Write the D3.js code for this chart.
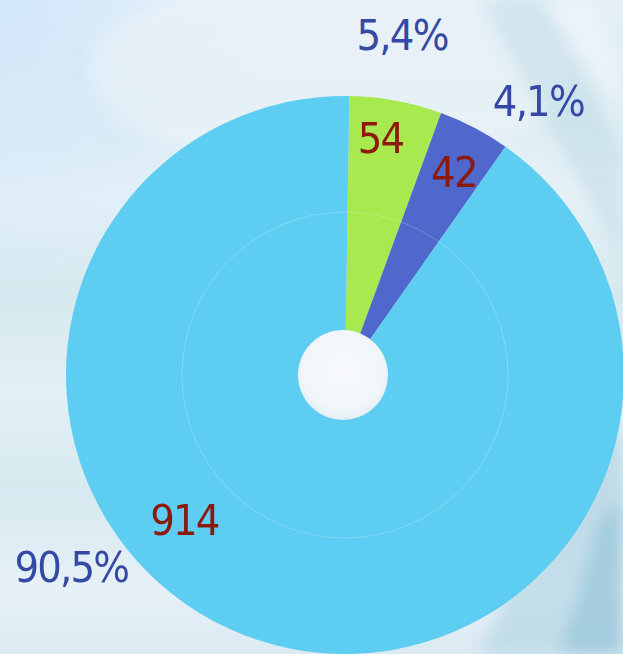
<!DOCTYPE html>
<html>
<head>
<meta charset="utf-8">
<script src="https://cdn.jsdelivr.net/npm/d3@7"></script>
<style>
  html, body { margin: 0; padding: 0; overflow: hidden; }
  svg { display: block; }
</style>
</head>
<body>
<div id="chart"></div>
<script>
// data
var categories = ["A", "B", "C"];
var counts = [54, 42, 914];
var percents = ["5,4%", "4,1%", "90,5%"];

var colors = ["#a8e94f", "#5068cc", "#5ecdf2"];
// label angle nudges (degrees) like the original smart placement
var valueShift = [-2, 0.5, 30];
var pctShift = [-1, 7.5, 37];

var width = 623, height = 654;
var cx = 345, cy = 375, radius = 279;

var svg = d3.select("#chart")
  .append("svg")
  .attr("width", width)
  .attr("height", height);

var defs = svg.append("defs");

// background: pale blue, streaky
var bg = defs.append("linearGradient").attr("id", "bg")
  .attr("x1", 0).attr("y1", 0).attr("x2", 0).attr("y2", 1);
[["0%", "#e4eff6"], ["15%", "#dcecf2"], ["30%", "#e6f1f7"], ["45%", "#d6e8ef"],
 ["60%", "#e3f0f6"], ["75%", "#d7e9f0"], ["90%", "#e6f1f7"], ["100%", "#dbeaf2"]]
  .forEach(function(s) { bg.append("stop").attr("offset", s[0]).attr("stop-color", s[1]); });

var corner = defs.append("radialGradient").attr("id", "corner")
  .attr("cx", 0).attr("cy", 0).attr("r", 0.45);
corner.append("stop").attr("offset", "0%").attr("stop-color", "#d0e6fb").attr("stop-opacity", 0.9);
corner.append("stop").attr("offset", "100%").attr("stop-color", "#d0e6fb").attr("stop-opacity", 0);

var blur = defs.append("filter").attr("id", "blur")
  .attr("x", "-20%").attr("y", "-20%").attr("width", "140%").attr("height", "140%");
blur.append("feGaussianBlur").attr("stdDeviation", 8);

var hole = defs.append("radialGradient").attr("id", "hole")
  .attr("cx", 0.5).attr("cy", 0.45).attr("r", 0.55);
hole.append("stop").attr("offset", "0%").attr("stop-color", "#f8fafd");
hole.append("stop").attr("offset", "80%").attr("stop-color", "#f1f6fa");
hole.append("stop").attr("offset", "100%").attr("stop-color", "#e2eef4");

svg.append("rect").attr("width", width).attr("height", height).attr("fill", "url(#bg)");
svg.append("rect").attr("width", width).attr("height", height).attr("fill", "url(#corner)");

// light area behind the top of the pie
svg.append("ellipse").attr("cx", 330).attr("cy", 70).attr("rx", 240).attr("ry", 100)
  .attr("fill", "#edf4f9").attr("opacity", 0.6).attr("filter", "url(#blur)");

// diagonal streaks top right and bottom right
var streaks = svg.append("g").attr("filter", "url(#blur)");
streaks.append("path").attr("d", "M480,0 L540,0 L623,150 L623,260 Z")
  .attr("fill", "#bcd9e6").attr("opacity", 0.5);
streaks.append("path").attr("d", "M550,0 L590,0 L623,70 L623,120 Z")
  .attr("fill", "#f4f9fc").attr("opacity", 0.6);
streaks.append("path").attr("d", "M560,470 L623,430 L623,654 L480,654 Z")
  .attr("fill", "#a9d0e0").attr("opacity", 0.55);
streaks.append("path").attr("d", "M600,520 L623,500 L623,654 L560,654 Z")
  .attr("fill", "#7fb8d0").attr("opacity", 0.45);

// pie
var pie = d3.pie().sort(null)
  .startAngle(0.9 * Math.PI / 180)
  .endAngle(2 * Math.PI + 0.9 * Math.PI / 180);
var arcs = pie(counts);

var arc = d3.arc().innerRadius(0).outerRadius(radius);

var g = svg.append("g").attr("transform", "translate(" + cx + "," + cy + ")");

g.selectAll("path.slice")
  .data(arcs)
  .enter().append("path")
  .attr("class", "slice")
  .attr("d", arc)
  .attr("fill", function(d, i) { return colors[i]; });

// faint inner ring
g.append("circle").attr("r", 163)
  .attr("fill", "none")
  .attr("stroke", "#ffffff")
  .attr("stroke-opacity", 0.22)
  .attr("stroke-width", 1);

// center hole
svg.append("circle").attr("cx", cx - 2).attr("cy", cy).attr("r", 45)
  .attr("fill", "url(#hole)");

function labelPos(d, shift, r) {
  var a = (d.startAngle + d.endAngle) / 2 + shift * Math.PI / 180;
  return [Math.sin(a) * r, -Math.cos(a) * r];
}

var font = "'DejaVu Sans', Verdana, sans-serif";

g.selectAll("text.count")
  .data(arcs)
  .enter().append("text")
  .attr("class", "count")
  .attr("transform", function(d, i) {
    var r = [240, 231, 216][i];
    var p = labelPos(d, valueShift[i], r);
    return "translate(" + p[0] + "," + p[1] + ") scale(0.9,1)";
  })
  .attr("text-anchor", "middle")
  .attr("dy", "0.36em")
  .style("font-family", font)
  .style("font-size", "43px")
  .style("letter-spacing", "-2px")
  .style("fill", "#8b1a0c")
  .text(function(d) { return d.data; });

g.selectAll("text.pct")
  .data(arcs)
  .enter().append("text")
  .attr("class", "pct")
  .attr("transform", function(d, i) {
    var r = [345, 336, 334][i];
    var p = labelPos(d, pctShift[i], r);
    return "translate(" + p[0] + "," + p[1] + ") scale(0.9,1)";
  })
  .attr("text-anchor", "middle")
  .attr("dy", "0.36em")
  .style("font-family", font)
  .style("font-size", "43px")
  .style("letter-spacing", "-2px")
  .style("fill", "#3548a6")
  .text(function(d, i) { return percents[i]; });
</script>
</body>
</html>
